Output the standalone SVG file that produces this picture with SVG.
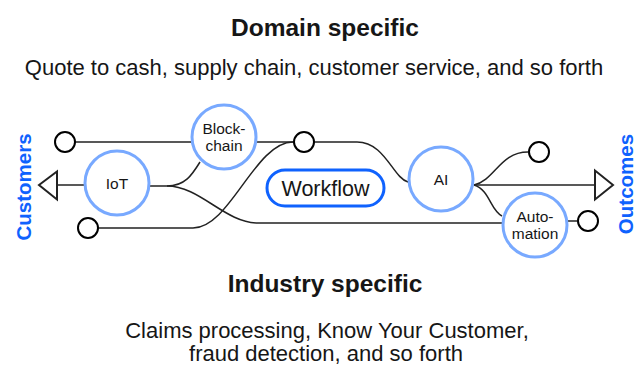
<svg xmlns="http://www.w3.org/2000/svg" width="642" height="367" viewBox="0 0 642 367">
<style>
.t{font-family:"Liberation Sans",Arial,sans-serif;fill:#161616}
.h{font-size:24.5px;font-weight:bold;text-anchor:middle}
.s{font-size:22px;text-anchor:middle}
.n{font-size:15.5px;text-anchor:middle}
.side{font-family:"Liberation Sans",Arial,sans-serif;font-size:20.5px;font-weight:bold;fill:#0f62fe;text-anchor:middle}
.big{fill:#fff;stroke:#78a9ff;stroke-width:3}
.small{fill:#fff;stroke:#000;stroke-width:2}
.ln{fill:none;stroke:#222;stroke-width:1.5}
.tri{fill:#fff;stroke:#222;stroke-width:2;stroke-linejoin:miter}
</style>
<rect width="642" height="367" fill="#fff"/>
<text class="t h" x="325" y="36">Domain specific</text>
<text class="t s" x="314" y="75">Quote to cash, supply chain, customer service, and so forth</text>
<text class="t h" x="325" y="292">Industry specific</text>
<text class="t s" x="327" y="338">Claims processing, Know Your Customer,</text>
<text class="t s" x="326" y="361">fraud detection, and so forth</text>
<text class="side" transform="translate(30.5,187) rotate(-90)">Customers</text>
<text class="side" transform="translate(633,184) rotate(-90)">Outcomes</text>
<g id="connectors">
<path class="ln" d="M65,142 H357 C385,142 393,178 408,182"/>
<path class="ln" d="M57,185 H84"/>
<path class="ln" d="M150,186 H167 C185,186 192,175 200,162"/>
<path class="ln" d="M167,186 C200,186 225,223 258,223 H502"/>
<path class="ln" d="M98,228 H193 C230,228 255,142 293,142"/>
<path class="ln" d="M474,185 H595"/>
<path class="ln" d="M474,185 C495,180 500,152 528,152"/>
<path class="ln" d="M474,185 C490,190 490,210 502,216"/>
<path class="ln" d="M568,221 H577"/>
<polygon class="tri" points="39,185 57,171.5 57,199.5"/>
<polygon class="tri" points="613,185 595,170.5 595,199.5"/>
</g>
<g id="c1"><circle class="small" cx="65" cy="142" r="10"/></g>
<g id="c2"><circle class="small" cx="88" cy="228" r="10"/></g>
<g id="c3"><circle class="small" cx="304" cy="142" r="10"/></g>
<g id="c4"><circle class="small" cx="539" cy="152" r="10"/></g>
<g id="c5"><circle class="small" cx="588" cy="221" r="10"/></g>
<g id="blockchain"><circle class="big" cx="224" cy="137" r="32"/><text class="t n" x="224" y="134">Block-</text><text class="t n" x="224" y="151">chain</text></g>
<g id="iot"><circle class="big" cx="117" cy="183" r="32"/><text class="t n" x="117" y="189">IoT</text></g>
<g id="ai"><circle class="big" cx="441" cy="179" r="32"/><text class="t n" x="441" y="185">AI</text></g>
<g id="automation"><circle class="big" cx="535" cy="225" r="32"/><text class="t n" x="535" y="222">Auto-</text><text class="t n" x="535" y="239">mation</text></g>
<g id="workflow"><rect x="267" y="170" width="117" height="36" rx="18" fill="#fff" stroke="#0f62fe" stroke-width="3"/><text class="t" x="325.5" y="195.5" font-size="21.5" text-anchor="middle">Workflow</text></g>
</svg>
